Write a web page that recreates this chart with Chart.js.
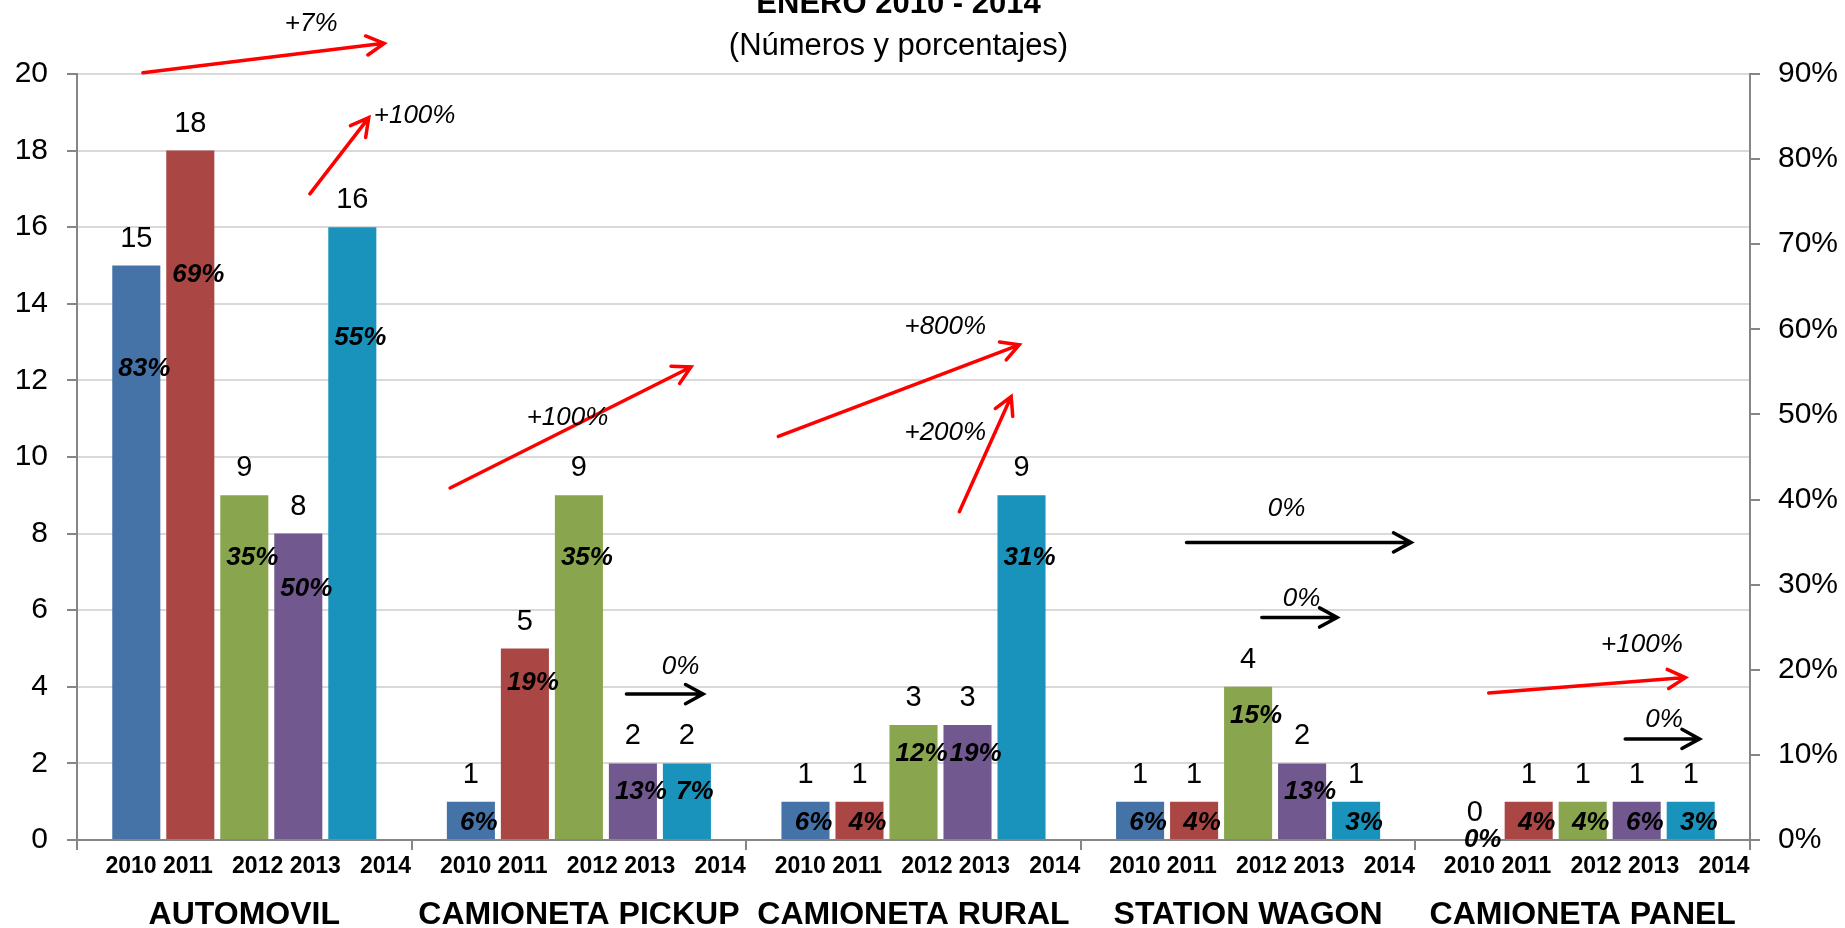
<!DOCTYPE html>
<html>
<head>
<meta charset="utf-8">
<script src="https://cdn.jsdelivr.net/npm/chart.js@4.4.1/dist/chart.umd.min.js"></script>
<style>
  html, body { margin: 0; padding: 0; background: #fff; overflow: hidden; }
  #wrap { width: 1845px; height: 928px; position: relative; }
</style>
</head>
<body>
<div id="wrap"><canvas id="myChart"></canvas></div>
<script>
const groups = ['AUTOMOVIL', 'CAMIONETA PICKUP', 'CAMIONETA RURAL', 'STATION WAGON', 'CAMIONETA PANEL'];
const years = ['2010', '2011', '2012', '2013', '2014'];

// numbers per year, one value per group
const counts2010 = [15, 1, 1, 1, 0];
const counts2011 = [18, 5, 1, 1, 1];
const counts2012 = [9, 9, 3, 4, 1];
const counts2013 = [8, 2, 3, 2, 1];
const counts2014 = [16, 2, 9, 1, 1];

// percentages shown inside the bars
const pct2010 = [83, 6, 6, 6, 0];
const pct2011 = [69, 19, 4, 4, 4];
const pct2012 = [35, 35, 12, 15, 4];
const pct2013 = [50, 13, 19, 13, 6];
const pct2014 = [55, 7, 31, 3, 3];

// the year row under each group is one label, as in the original sheet
const yearRow = `${years[0]} ${years[1]}   ${years[2]} ${years[3]}   ${years[4]}`;
const yearTicks = groups.map(() => yearRow);
const leftTicks = [0, 2, 4, 6, 8, 10, 12, 14, 16, 18, 20];
const rightTicks = [0, 10, 20, 30, 40, 50, 60, 70, 80, 90];

// trend arrows: x in group units, y in number units
const trends = [
  { text: '+7%', color: '#FF0000', from: [-0.303, 20.03], to: [0.418, 20.8], at: [0.2, 21.32] },
  { text: '+100%', color: '#FF0000', from: [0.196, 16.87], to: [0.372, 18.86], at: [0.509, 18.9] },
  { text: '+100%', color: '#FF0000', from: [0.615, 9.19], to: [1.335, 12.35], at: [0.966, 11.03] },
  { text: '0%', color: '#000000', from: [1.142, 3.81], to: [1.371, 3.81], at: [1.304, 4.52] },
  { text: '+800%', color: '#FF0000', from: [1.596, 10.54], to: [2.316, 12.93], at: [2.095, 13.39] },
  { text: '+200%', color: '#FF0000', from: [2.137, 8.57], to: [2.292, 11.58], at: [2.095, 10.63] },
  { text: '0%', color: '#000000', from: [2.816, 7.77], to: [3.487, 7.77], at: [3.115, 8.66] },
  { text: '0%', color: '#000000', from: [3.041, 5.81], to: [3.266, 5.81], at: [3.16, 6.3] },
  { text: '+100%', color: '#FF0000', from: [3.719, 3.84], to: [4.307, 4.24], at: [4.177, 5.1] },
  { text: '0%', color: '#000000', from: [4.127, 2.64], to: [4.349, 2.64], at: [4.243, 3.13] },
];

const seriesCounts = [counts2010, counts2011, counts2012, counts2013, counts2014];
const seriesPct = [pct2010, pct2011, pct2012, pct2013, pct2014];
const colors = ['#4572A7', '#AA4643', '#89A54E', '#71588F', '#1A93BC'];

const FONT = "'Liberation Sans', Arial, sans-serif";
const AXIS = '#868686';

// where the percentage sits inside a bar
const pctLevel = (v) => Math.max(v - Math.max(0.75, v * 0.18), v * 0.45);

const labelsPlugin = {
  id: 'barLabels',
  afterDatasetsDraw(chart) {
    const { ctx } = chart;
    const yScale = chart.scales.y;
    ctx.save();
    ctx.textAlign = 'center';
    ctx.textBaseline = 'middle';
    ctx.fillStyle = '#000';
    chart.data.datasets.forEach((ds, i) => {
      const meta = chart.getDatasetMeta(i);
      meta.data.forEach((bar, j) => {
        const v = ds.data[j];
        ctx.font = `29px ${FONT}`;
        ctx.fillText(String(v), bar.x, yScale.getPixelForValue(v) - 27);
        ctx.font = `italic bold 26px ${FONT}`;
        ctx.fillText(seriesPct[i][j] + '%', bar.x + 8, yScale.getPixelForValue(pctLevel(v)));
      });
    });
    ctx.restore();
  },
};

const arrowsPlugin = {
  id: 'trendArrows',
  afterDraw(chart) {
    const { ctx } = chart;
    const xs = chart.scales.x;
    const ys = chart.scales.y;
    ctx.save();
    trends.forEach((t) => {
      const x1 = xs.getPixelForValue(t.from[0]);
      const y1 = ys.getPixelForValue(t.from[1]);
      const x2 = xs.getPixelForValue(t.to[0]);
      const y2 = ys.getPixelForValue(t.to[1]);
      const ang = Math.atan2(y2 - y1, x2 - x1);
      const head = 20;
      const spread = 0.5;
      ctx.strokeStyle = t.color;
      ctx.lineWidth = 3.5;
      ctx.lineCap = 'round';
      ctx.beginPath();
      ctx.moveTo(x1, y1);
      ctx.lineTo(x2, y2);
      ctx.moveTo(x2 - head * Math.cos(ang - spread), y2 - head * Math.sin(ang - spread));
      ctx.lineTo(x2, y2);
      ctx.lineTo(x2 - head * Math.cos(ang + spread), y2 - head * Math.sin(ang + spread));
      ctx.stroke();
      ctx.fillStyle = '#000';
      ctx.font = `italic 26px ${FONT}`;
      ctx.textAlign = 'center';
      ctx.textBaseline = 'middle';
      ctx.fillText(t.text, xs.getPixelForValue(t.at[0]), ys.getPixelForValue(t.at[1]));
    });

    // title, partly cut off by the top edge, and subtitle
    ctx.fillStyle = '#000';
    ctx.textAlign = 'center';
    ctx.textBaseline = 'alphabetic';
    ctx.font = `bold 31px ${FONT}`;
    ctx.fillText('ENERO 2010 - 2014', chart.width / 2 - 24, 13);
    ctx.textBaseline = 'middle';
    ctx.font = `31px ${FONT}`;
    ctx.fillText('(Números y porcentajes)', chart.width / 2 - 24, 46);
    ctx.restore();
  },
};

const datasets = seriesCounts.map((arr, i) => ({
  label: years[i],
  data: arr,
  backgroundColor: colors[i],
  borderWidth: 0,
  categoryPercentage: 0.807,
  barPercentage: 0.89,
  xAxisID: 'x',
  yAxisID: 'y',
}));

const fixedWidth = (w) => (scale) => { scale.width = w; };
const fixedHeight = (h) => (scale) => { scale.height = h; };

new Chart(document.getElementById('myChart'), {
  type: 'bar',
  data: { labels: groups, datasets },
  options: {
    responsive: true,
    maintainAspectRatio: false,
    animation: false,
    layout: { padding: { top: 74, left: 14, right: 5, bottom: 0 } },
    plugins: {
      legend: { display: false },
      tooltip: { enabled: false },
      title: { display: false },
    },
    scales: {
      x: {
        type: 'category',
        position: 'bottom',
        weight: 1,
        offset: true,
        grid: {
          display: true,
          drawOnChartArea: false,
          offset: true,
          color: AXIS,
          tickColor: AXIS,
          tickLength: 10,
          lineWidth: 2,
        },
        border: { display: true, color: AXIS, width: 2 },
        ticks: { display: false },
        afterFit: fixedHeight(10),
      },
      xYear: {
        type: 'category',
        position: 'bottom',
        weight: 2,
        offset: true,
        labels: yearTicks,
        grid: { display: false, drawTicks: false },
        border: { display: false },
        ticks: {
          autoSkip: false,
          maxRotation: 0,
          minRotation: 0,
          padding: 3,
          labelOffset: 14,
          color: '#000',
          font: { family: FONT, size: 23, weight: 'bold' },
        },
        afterFit: fixedHeight(40),
      },
      xGroup: {
        type: 'category',
        position: 'bottom',
        weight: 3,
        offset: true,
        labels: groups,
        grid: { display: false, drawTicks: false },
        border: { display: false },
        ticks: {
          autoSkip: false,
          maxRotation: 0,
          minRotation: 0,
          padding: 6,
          color: '#000',
          font: { family: FONT, size: 32, weight: 'bold' },
        },
        afterFit: fixedHeight(38),
      },
      y: {
        position: 'left',
        min: 0,
        max: 20,
        afterBuildTicks: (scale) => { scale.ticks = leftTicks.map((v) => ({ value: v })); },
        grid: {
          color: (c) => (c.tick && c.tick.value === 0 ? AXIS : '#D9D9D9'),
          tickColor: AXIS,
          tickLength: 10,
          lineWidth: 2,
        },
        border: { display: true, color: AXIS, width: 2 },
        ticks: {
          padding: 19,
          color: '#000',
          font: { family: FONT, size: 30 },
        },
        afterFit: fixedWidth(63),
      },
      y2: {
        position: 'right',
        min: 0,
        max: 90,
        afterBuildTicks: (scale) => { scale.ticks = rightTicks.map((v) => ({ value: v })); },
        grid: {
          drawOnChartArea: false,
          color: AXIS,
          tickColor: AXIS,
          tickLength: 10,
          lineWidth: 2,
        },
        border: { display: true, color: AXIS, width: 2 },
        ticks: {
          padding: 18,
          color: '#000',
          font: { family: FONT, size: 30 },
          callback: (v) => v + '%',
        },
        afterFit: fixedWidth(90),
      },
    },
  },
  plugins: [labelsPlugin, arrowsPlugin],
});
</script>
</body>
</html>
